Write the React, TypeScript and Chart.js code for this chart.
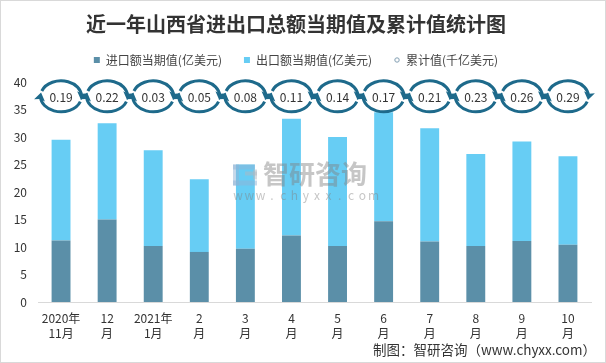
import React, { useEffect, useRef } from "react";
import { Chart, registerables, layouts } from "chart.js";

Chart.register(...registerables);

const categories: string[][] = [
  ["2020年", "11月"], ["12", "月"], ["2021年", "1月"], ["2", "月"], ["3", "月"], ["4", "月"],
  ["5", "月"], ["6", "月"], ["7", "月"], ["8", "月"], ["9", "月"], ["10", "月"],
];
const importValues = [11.2, 15.0, 10.2, 9.1, 9.7, 12.1, 10.2, 14.7, 11.0, 10.2, 11.1, 10.4];
const exportValues = [18.3, 17.5, 17.4, 13.2, 15.3, 21.2, 19.8, 19.8, 20.6, 16.7, 18.1, 16.1];
const cumulativeValues = [0.19, 0.22, 0.03, 0.05, 0.08, 0.11, 0.14, 0.17, 0.21, 0.23, 0.26, 0.29];
const seriesNames = ["进口额当期值(亿美元)", "出口额当期值(亿美元)", "累计值(千亿美元)"];
const titleText = "近一年山西省进出口总额当期值及累计值统计图";
const footerText = "制图：智研咨询（www.chyxx.com）";

const FONT = "'Noto Sans CJK SC', 'Noto Sans', sans-serif";

function drawSyncIcon(ctx: CanvasRenderingContext2D, cx: number, cy: number, rx: number, ry: number) {
  ctx.save();
  ctx.strokeStyle = "#1e6a8b";
  ctx.fillStyle = "#1e6a8b";
  ctx.lineWidth = 3;
  ctx.lineCap = "butt";
  const arcs = [
    [Math.PI + 0.35, 2 * Math.PI + 0.15],
    [0.35, Math.PI + 0.15],
  ];
  for (const [a0, a1] of arcs) {
    ctx.beginPath();
    ctx.ellipse(cx, cy, rx, ry, 0, a0, a1 - 0.2);
    ctx.stroke();
    const px = cx + rx * Math.cos(a1);
    const py = cy + ry * Math.sin(a1);
    let tx = -rx * Math.sin(a1);
    let ty = ry * Math.cos(a1);
    const len = Math.hypot(tx, ty);
    tx /= len;
    ty /= len;
    const nx = -ty;
    const ny = tx;
    const bx = px - tx * 6.5;
    const by = py - ty * 6.5;
    ctx.beginPath();
    ctx.moveTo(px + tx * 1.5, py + ty * 1.5);
    ctx.lineTo(bx + nx * 5.5, by + ny * 5.5);
    ctx.lineTo(bx + tx * 1.5, by + ty * 1.5);
    ctx.lineTo(bx - nx * 5.5, by - ny * 5.5);
    ctx.closePath();
    ctx.fill();
  }
  ctx.restore();
}

const iconPlugin = {
  id: "cumIcons",
  afterDatasetsDraw(chart: any) {
    const ctx: CanvasRenderingContext2D = chart.ctx;
    const xs = chart.scales.x;
    const ys = chart.scales.y;
    const cy = ys.getPixelForValue(37.4);
    cumulativeValues.forEach((v, i) => {
      const cx = xs.getPixelForValue(i);
      drawSyncIcon(ctx, cx, cy, 20.5, 15.5);
      ctx.save();
      ctx.fillStyle = "#333";
      ctx.font = `12px ${FONT}`;
      ctx.textAlign = "center";
      ctx.textBaseline = "middle";
      ctx.fillText(v.toFixed(2), cx, cy + 1);
      ctx.restore();
    });
  },
};

const watermarkPlugin = {
  id: "watermark",
  afterDatasetsDraw(chart: any) {
    const ctx: CanvasRenderingContext2D = chart.ctx;
    const cx = chart.width / 2;
    const cy = chart.height / 2;
    ctx.save();
    ctx.globalAlpha = 0.5;
    ctx.fillStyle = "#8fb3d6";
    ctx.fillRect(cx - 70, cy - 17, 22, 5);
    ctx.fillRect(cx - 70, cy - 17, 6, 21);
    ctx.fillRect(cx - 70, cy - 1, 24, 5);
    ctx.fillStyle = "#b0b8c0";
    ctx.fillRect(cx - 58, cy - 10, 12, 4);
    ctx.fillRect(cx - 50, cy - 12, 4, 10);
    ctx.globalAlpha = 0.45;
    ctx.fillStyle = "#808080";
    ctx.font = `bold 26px ${FONT}`;
    ctx.textBaseline = "middle";
    ctx.textAlign = "left";
    ctx.fillText("智研咨询", cx - 40, cy - 7);
    ctx.font = `12px ${FONT}`;
    ctx.textAlign = "center";
    const url = "www.chyxx.com";
    for (let i = 0; i < url.length; i++) {
      ctx.fillText(url[i], cx - 65 + i * 11.3, cy + 14);
    }
    ctx.restore();
  },
};

// Empty layout box that sits between the legend and the plot area.
const spacerPlugin = {
  id: "legendSpacer",
  beforeInit(chart: any) {
    const box: any = {
      position: "top",
      weight: 500,
      fullSize: true,
      options: {},
      top: 0,
      left: 0,
      right: 0,
      bottom: 0,
      width: 0,
      height: 0,
      update(maxWidth: number) {
        this.width = maxWidth;
        this.height = 6;
      },
      isHorizontal() {
        return true;
      },
      draw() {},
    };
    layouts.addBox(chart, box);
  },
};

function makeCircleMarker(): HTMLCanvasElement {
  const c = document.createElement("canvas");
  c.width = 6;
  c.height = 6;
  const g = c.getContext("2d")!;
  g.strokeStyle = "#7f9cb0";
  g.lineWidth = 1;
  g.beginPath();
  g.arc(3, 3, 2.2, 0, Math.PI * 2);
  g.stroke();
  return c;
}

export default function App() {
  const ref = useRef<HTMLCanvasElement>(null);

  useEffect(() => {
    document.body.style.margin = "0";
    const canvas = ref.current;
    if (!canvas) return;
    const chart = new Chart(canvas, {
      type: "bar",
      data: {
        labels: categories,
        datasets: [
          {
            type: "bar",
            label: seriesNames[0],
            data: importValues,
            backgroundColor: "#5b8fa8",
            pointStyle: "rect",
            stack: "s",
            barPercentage: 0.41,
            categoryPercentage: 1,
          } as any,
          {
            type: "bar",
            label: seriesNames[1],
            data: exportValues,
            backgroundColor: "#67cdf4",
            pointStyle: "rect",
            stack: "s",
            barPercentage: 0.41,
            categoryPercentage: 1,
          } as any,
          {
            type: "line",
            label: seriesNames[2],
            data: cumulativeValues,
            yAxisID: "y1",
            showLine: false,
            pointRadius: 0,
            pointStyle: makeCircleMarker(),
            borderColor: "#8aa6b8",
            backgroundColor: "#ffffff",
            borderWidth: 1,
          } as any,
        ],
      },
      options: {
        animation: false,
        responsive: false,
        maintainAspectRatio: false,
        layout: { padding: { top: 0, left: 0, right: 14, bottom: 0 } },
        plugins: {
          title: {
            display: true,
            text: titleText,
            color: "#333",
            font: { family: FONT, size: 20, weight: "bold" },
            padding: { top: 11, bottom: -4 },
          },
          legend: {
            display: true,
            labels: {
              usePointStyle: true,
              boxWidth: 6,
              boxHeight: 6,
              padding: 22,
              color: "#444",
              font: { family: FONT, size: 12 },
            },
          },
          tooltip: { enabled: false },
        },
        scales: {
          x: {
            stacked: true,
            grid: { display: false, drawTicks: false },
            border: { display: true, color: "#d9d9d9" },
            ticks: {
              color: "#333",
              font: { family: FONT, size: 12, lineHeight: 1.25 },
              padding: 9,
              maxRotation: 0,
              autoSkip: false,
            },
            afterFit(scale: any) {
              scale.height = 60;
            },
          },
          y: {
            stacked: true,
            min: 0,
            max: 40,
            grid: { display: false, drawTicks: false },
            border: { display: false },
            ticks: {
              stepSize: 5,
              color: "#333",
              font: { family: FONT, size: 12 },
              padding: 11,
            },
            afterFit(scale: any) {
              scale.width = 37;
            },
          },
          y1: {
            display: false,
            min: 0,
            max: 1,
          },
        },
      },
      plugins: [spacerPlugin, iconPlugin, watermarkPlugin],
    });
    return () => chart.destroy();
  }, []);

  return (
    <div
      style={{
        position: "relative",
        width: 606,
        height: 363,
        boxSizing: "border-box",
        border: "1px solid #d9d9d9",
        background: "#fff",
        overflow: "hidden",
      }}
    >
      <canvas ref={ref} width={604} height={361} style={{ display: "block" }} />
      <div
        style={{
          position: "absolute",
          right: 9,
          bottom: 3,
          fontFamily: FONT,
          fontSize: 13.5,
          color: "#333",
          whiteSpace: "nowrap",
        }}
      >
        {footerText}
      </div>
    </div>
  );
}
